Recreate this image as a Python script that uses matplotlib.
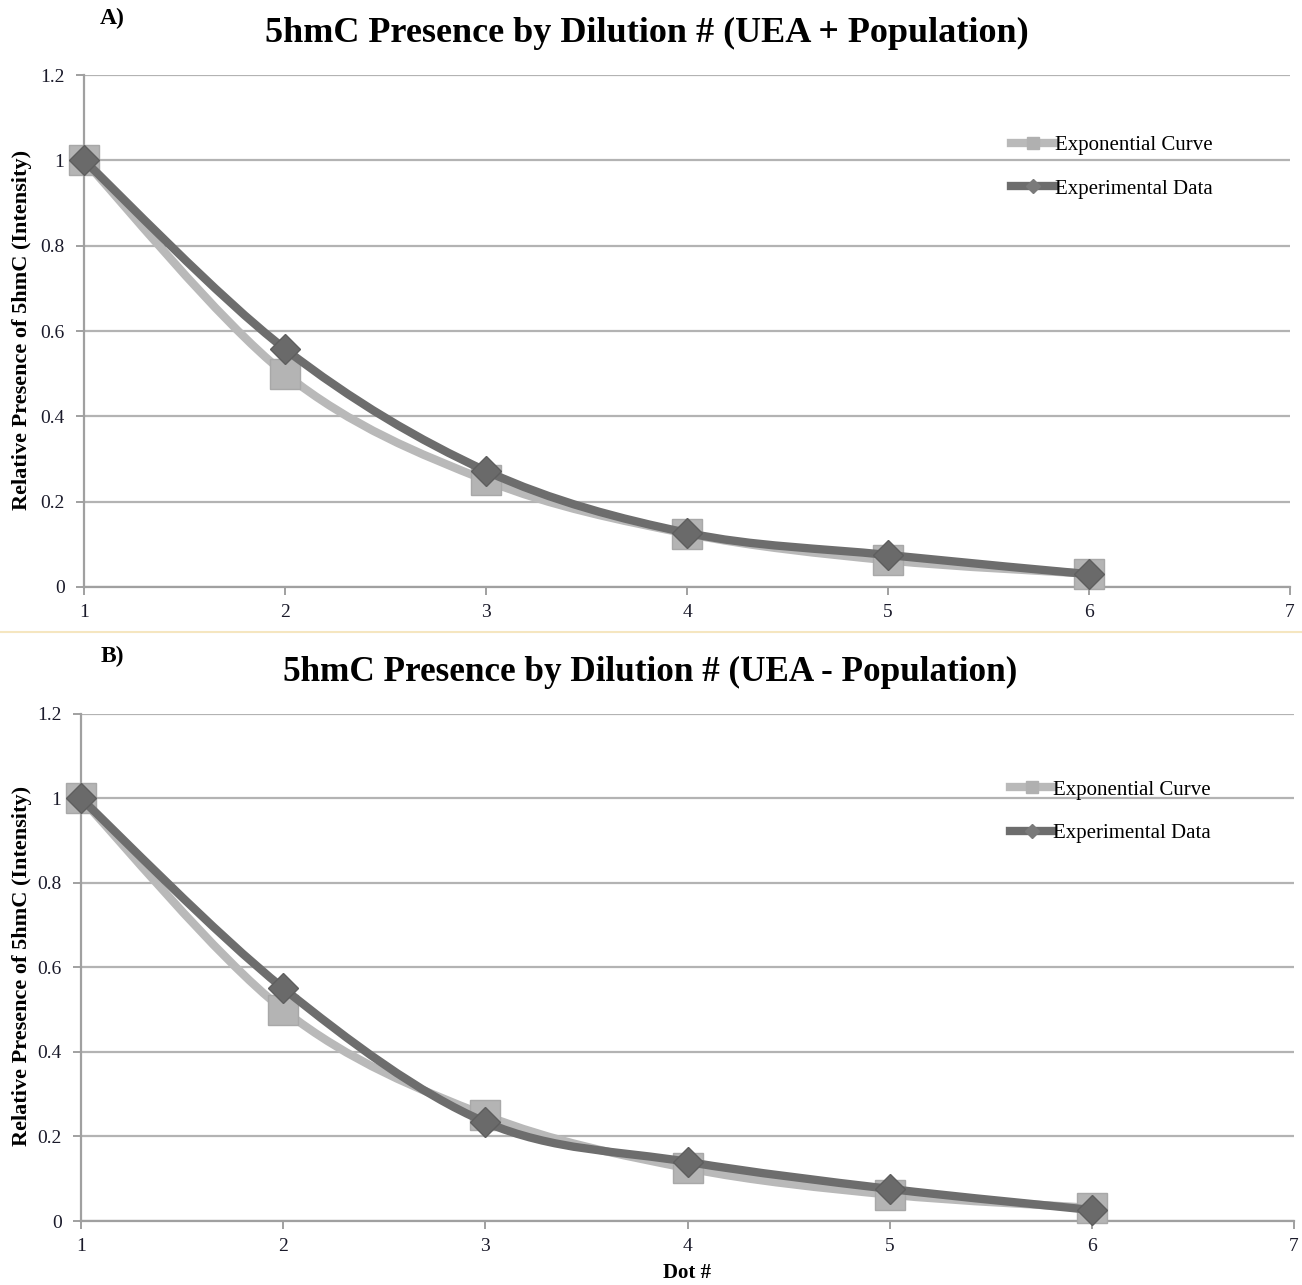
import numpy as np
import matplotlib.pyplot as plt
from matplotlib.path import Path
from matplotlib.patches import PathPatch
from matplotlib.lines import Line2D

plt.rcParams['font.family'] = ['Liberation Serif', 'DejaVu Serif']

# data
dots = [1, 2, 3, 4, 5, 6]
expo_a = [1.0, 0.50, 0.25, 0.125, 0.0625, 0.031]
exper_a = [1.0, 0.558, 0.272, 0.127, 0.075, 0.030]
expo_b = [1.0, 0.50, 0.25, 0.125, 0.0625, 0.031]
exper_b = [1.0, 0.551, 0.234, 0.140, 0.076, 0.026]

titles = ['5hmC Presence by Dilution # (UEA + Population)',
          '5hmC Presence by Dilution # (UEA - Population)']
tags = ['A)', 'B)']

LIGHT = '#b9b9b9'
DARK = '#6d6d6d'
GRID = '#b3b3b3'


def smooth_path(x, y):
    # excel style smoothed line: bezier through the points
    x = np.asarray(x, float)
    y = np.asarray(y, float)
    n = len(x)
    verts = [(x[0], y[0])]
    codes = [Path.MOVETO]
    for i in range(n - 1):
        p0 = i - 1 if i > 0 else i
        p3 = i + 2 if i + 2 < n else i + 1
        c1 = (x[i] + (x[i+1] - x[p0]) / 6, y[i] + (y[i+1] - y[p0]) / 6)
        c2 = (x[i+1] - (x[p3] - x[i]) / 6, y[i+1] - (y[p3] - y[i]) / 6)
        verts += [c1, c2, (x[i+1], y[i+1])]
        codes += [Path.CURVE4] * 3
    return Path(verts, codes)


def draw_panel(ax, expo, exper, leg_x, leg_y):
    for vals, col, lw, z in [(expo, LIGHT, 6.0, 3), (exper, DARK, 6.0, 5)]:
        patch = PathPatch(smooth_path(dots, vals), facecolor='none',
                          edgecolor=col, lw=lw, zorder=z, capstyle='round')
        ax.add_patch(patch)
    ax.plot(dots, expo, ls='none', marker='s', ms=21, color='#b4b4b4',
            mec='#a8a8a8', zorder=4, clip_on=False)
    ax.plot(dots, exper, ls='none', marker='D', ms=15, color='#6a6a6a',
            mec='#5e5e5e', zorder=6, clip_on=False)

    ax.set_xlim(1, 7)
    ax.set_ylim(0, 1.2)
    ax.set_yticks([0, 0.2, 0.4, 0.6, 0.8, 1.0, 1.2])
    ax.set_yticklabels(['0', '0.2', '0.4', '0.6', '0.8', '1', '1.2'])
    ax.set_xticks(range(1, 8))
    ax.grid(axis='y', color=GRID, lw=1.6)
    ax.set_axisbelow(True)
    for s in ['top', 'right']:
        ax.spines[s].set_visible(False)
    for s in ['left', 'bottom']:
        ax.spines[s].set_color('#a0a0a0')
        ax.spines[s].set_linewidth(1.6)
    ax.tick_params(axis='both', colors='#a0a0a0', labelcolor='#1a1a2a',
                   labelsize=14, width=1.4, length=6)
    ax.tick_params(axis='x', pad=6)
    ax.tick_params(axis='y', pad=8)

    handles = [Line2D([], [], color=LIGHT, lw=6, marker='s', ms=9,
                      mfc='#b0b0b0', mec='#b0b0b0'),
               Line2D([], [], color=DARK, lw=6, marker='D', ms=7,
                      mfc='#7a7a7a', mec='#7a7a7a')]
    ax.legend(handles, ['Exponential Curve', 'Experimental Data'],
              loc='upper left', bbox_to_anchor=(leg_x, leg_y), frameon=False,
              fontsize=15, handlelength=2.1, handletextpad=0.0,
              labelspacing=1.15, borderpad=0)


fig = plt.figure(figsize=(13.02, 12.85), dpi=100)
ax1 = fig.add_axes([0.0645, 0.5432, 0.9263, 0.3984])
ax2 = fig.add_axes([0.0622, 0.0498, 0.9317, 0.3946])

draw_panel(ax1, expo_a, exper_a, 0.760, 0.902)
draw_panel(ax2, expo_b, exper_b, 0.757, 0.890)

fig.text(0.497, 0.974, titles[0], ha='center', va='center',
         fontsize=26, fontweight='bold')
fig.text(0.4995, 0.477, titles[1], ha='center', va='center',
         fontsize=25.3, fontweight='bold')
fig.text(0.086, 0.986, tags[0], ha='center', va='center',
         fontsize=17, fontweight='bold')
fig.text(0.086, 0.489, tags[1], ha='center', va='center',
         fontsize=17, fontweight='bold')

fig.text(0.017, 0.743, 'Relative Presence of 5hmC (Intensity)', rotation=90,
         ha='center', va='center', fontsize=16, fontweight='bold')
fig.text(0.017, 0.248, 'Relative Presence of 5hmC (Intensity)', rotation=90,
         ha='center', va='center', fontsize=16, fontweight='bold')
fig.text(0.528, 0.009, 'Dot #', ha='center', va='center',
         fontsize=15, fontweight='bold')

# thin separator between the two panels
fig.add_artist(Line2D([0, 1], [0.508, 0.508], color='#f5e6c0', lw=1.5,
                      transform=fig.transFigure))

fig.savefig('out.png', dpi=100)
